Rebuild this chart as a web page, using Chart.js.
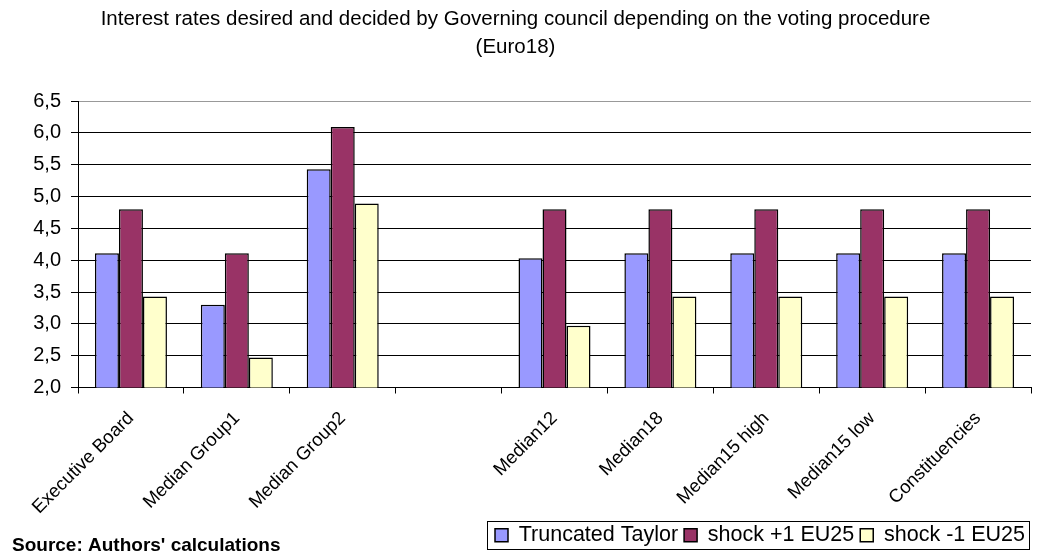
<!DOCTYPE html>
<html>
<head>
<meta charset="utf-8">
<title>Interest rates by voting procedure</title>
<script src="https://cdn.jsdelivr.net/npm/chart.js@4/dist/chart.umd.min.js"></script>
<style>
    html, body { margin: 0; padding: 0; background: #fff; }
    #wrap { width: 1037px; height: 552px; }
</style>
</head>
<body>
<div id="wrap"><canvas id="chart"></canvas></div>
<script>
const categories = [
    "Executive Board",
    "Median Group1",
    "Median Group2",
    "",
    "Median12",
    "Median18",
    "Median15 high",
    "Median15 low",
    "Constituencies",
];
const truncatedTaylor = [4.11, 3.30, 5.43, null, 4.03, 4.11, 4.11, 4.11, 4.11];
const shockPlus = [4.80, 4.11, 6.09, null, 4.80, 4.80, 4.80, 4.80, 4.80];
const shockMinus = [3.43, 2.47, 4.89, null, 2.97, 3.43, 3.43, 3.43, 3.43];

const yMin = 2.0;
const yMax = 6.5;
const yStep = 0.5;

const FONT = "'Liberation Sans', Arial, sans-serif";

// box round the legend items, like the old spreadsheet legend
const legendFrame = {
    id: "legendFrame",
    afterDraw(chart) {
        const boxes = chart.legend.legendHitBoxes;
        if (!boxes || !boxes.length) return;
        const first = boxes[0];
        const last = boxes[boxes.length - 1];
        const c = chart.ctx;
        const left = first.left - 8;
        const right = last.left + last.width + 4;
        const mid = first.top + first.height / 2;
        c.save();
        c.strokeStyle = "#000";
        c.lineWidth = 1;
        c.strokeRect(Math.round(left) + 0.5, Math.round(mid - 14) + 0.5, Math.round(right - left), 28);
        c.restore();
    },
};

const sourceNote = {
    id: "sourceNote",
    afterDraw(chart) {
        const c = chart.ctx;
        c.save();
        c.font = "bold 19px " + FONT;
        c.fillStyle = "#000";
        c.textAlign = "left";
        c.textBaseline = "alphabetic";
        c.fillText("Source: Authors' calculations", 12, 551);
        c.restore();
    },
};

const whiteBg = {
    id: "whiteBg",
    beforeDraw(chart) {
        const c = chart.ctx;
        c.save();
        c.fillStyle = "#fff";
        c.fillRect(0, 0, chart.width, chart.height);
        c.restore();
    },
};

const chart = document.querySelector("#chart").getContext("2d");

new Chart(chart, {
    type: "bar",
    data: {
        labels: categories,
        datasets: [
            {
                label: "Truncated Taylor",
                data: truncatedTaylor,
                backgroundColor: "#9999FF",
                borderColor: "#000",
                borderWidth: 1.5,
            },
            {
                label: "shock +1 EU25",
                data: shockPlus,
                backgroundColor: "#993366",
                borderColor: "#000",
                borderWidth: 1.5,
            },
            {
                label: "shock -1 EU25",
                data: shockMinus,
                backgroundColor: "#FFFFCC",
                borderColor: "#000",
                borderWidth: 1.5,
            },
        ],
    },
    options: {
        responsive: true,
        maintainAspectRatio: false,
        animation: false,
        layout: {
            padding: { left: 0, right: 6, top: 0, bottom: -4 },
        },
        datasets: {
            bar: {
                categoryPercentage: 0.68,
                barPercentage: 1.0,
            },
        },
        plugins: {
            title: {
                display: true,
                text: [
                    "Interest rates desired and decided by Governing council depending on the voting procedure",
                    "(Euro18)",
                ],
                color: "#000",
                font: { family: FONT, size: 20.5, weight: "normal", lineHeight: 1.366 },
                padding: { top: 5, bottom: 40 },
            },
            legend: {
                position: "bottom",
                align: "end",
                labels: {
                    color: "#000",
                    font: { family: FONT, size: 21.5 },
                    boxWidth: 13,
                    boxHeight: 13,
                    padding: 6,
                },
            },
            tooltip: { enabled: false },
        },
        scales: {
            x: {
                offset: true,
                grid: {
                    offset: true,
                    drawOnChartArea: true,
                    color: (ctx) => (ctx.index === categories.length ? "#999" : "rgba(0,0,0,0)"),
                    tickColor: "#000",
                    tickLength: 6,
                    lineWidth: 1,
                },
                border: { color: "#000", width: 1 },
                ticks: {
                    color: "#000",
                    font: { family: FONT, size: 18.5 },
                    minRotation: 45,
                    maxRotation: 45,
                    autoSkip: false,
                    padding: 14,
                },
                afterFit(scale) {
                    scale.height = 131;
                },
            },
            y: {
                min: yMin,
                max: yMax,
                grid: {
                    color: (ctx) => (ctx.tick && ctx.tick.value === yMax ? "#999" : "#000"),
                    tickColor: "#000",
                    tickLength: 7,
                    lineWidth: 1,
                },
                border: { color: "#000", width: 1 },
                ticks: {
                    stepSize: yStep,
                    color: "#000",
                    font: { family: FONT, size: 20 },
                    padding: 10,
                    callback: (v) => v.toFixed(1).replace(".", ","),
                },
                afterFit(scale) {
                    scale.width = 78;
                },
            },
        },
    },
    plugins: [whiteBg, legendFrame, sourceNote],
});
</script>
</body>
</html>
